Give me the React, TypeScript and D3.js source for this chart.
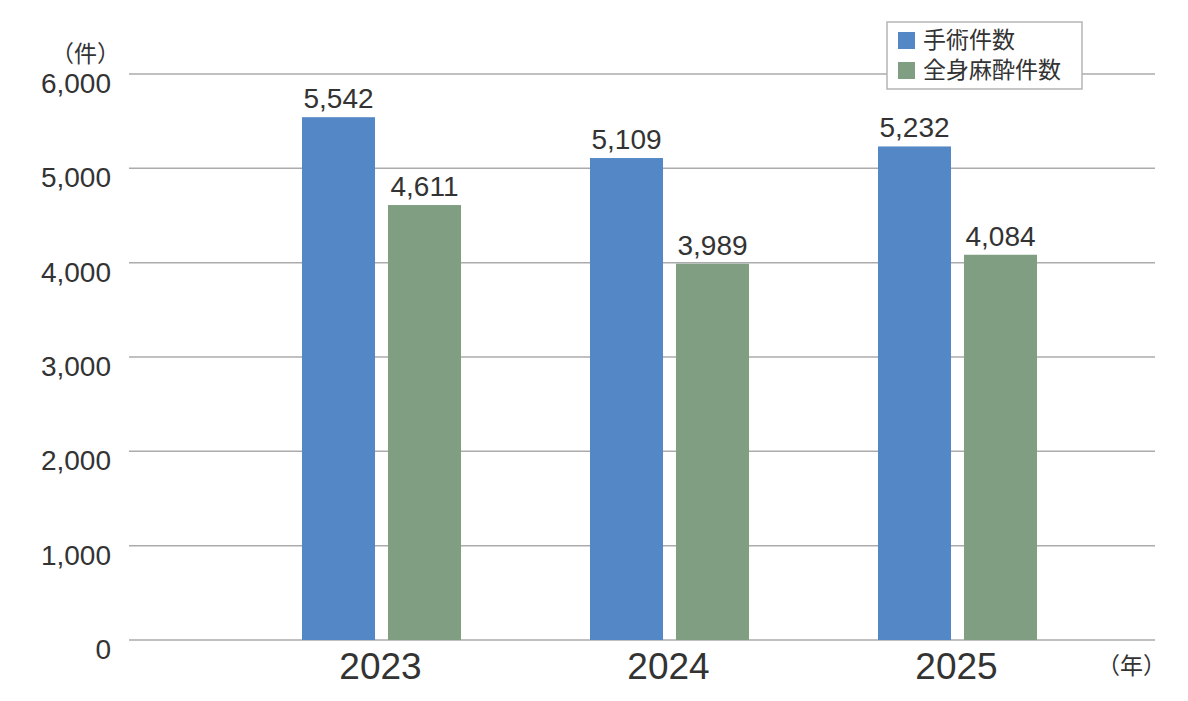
import React from 'react';
import * as d3 from 'd3';

// chart values
const years = ['2023', '2024', '2025'];
const seriesNames = ['手術件数', '全身麻酔件数'];
const surgeries = [5542, 5109, 5232];
const anesthesia = [4611, 3989, 4084];
const yTicks = [0, 1000, 2000, 3000, 4000, 5000, 6000];

const colors = ['#5387c6', '#809f82'];
const textColor = '#333333';
const gridColor = '#ababab';
const numFont = '"Liberation Sans", Arial, Helvetica, sans-serif';
const cjkFont = '"Noto Sans CJK JP", "Noto Sans", sans-serif';

const width = 1188;
const height = 701;
const plot = { left: 129, right: 1155, top: 74, bottom: 640 };

export default function App() {
  const yScale = d3.scaleLinear().domain([0, 6000]).range([plot.bottom, plot.top]);

  const x0 = d3.scaleBand<string>()
    .domain(years)
    .range([237.5, 1101.5])
    .paddingInner(0)
    .paddingOuter(0);

  const groupWidth = 159;
  const x1 = d3.scaleBand<number>()
    .domain([0, 1])
    .range([0, groupWidth])
    .paddingInner(0.151);

  const series = [surgeries, anesthesia];
  const fmt = d3.format(',');

  return (
    <svg
      width={width}
      height={height}
      style={{ position: 'absolute', left: 0, top: 0, background: '#fff' }}
    >
      {/* grid lines */}
      {yTicks.map(t => (
        <line
          key={t}
          x1={plot.left}
          x2={plot.right}
          y1={yScale(t)}
          y2={yScale(t)}
          stroke={gridColor}
          strokeWidth={1.5}
        />
      ))}

      {/* y tick labels */}
      {yTicks.map(t => (
        <text
          key={'l' + t}
          x={111}
          y={yScale(t) + 19}
          textAnchor="end"
          fontFamily={numFont}
          fontSize={28}
          fill={textColor}
        >
          {fmt(t)}
        </text>
      ))}
      <text x={120} y={62} textAnchor="end" fontFamily={cjkFont} fontSize={23} fill={textColor}>
        （件）
      </text>

      {/* bars */}
      {years.map((yr, i) => {
        const gx = x0(yr)! + (x0.bandwidth() - groupWidth) / 2;
        return (
          <g key={yr} transform={`translate(${gx},0)`}>
            {series.map((s, j) => (
              <g key={j}>
                <rect
                  x={x1(j)}
                  y={yScale(s[i])}
                  width={x1.bandwidth()}
                  height={yScale(0) - yScale(s[i])}
                  fill={colors[j]}
                />
                <text
                  x={x1(j)! + x1.bandwidth() / 2}
                  y={yScale(s[i]) - 9}
                  textAnchor="middle"
                  fontFamily={numFont}
                  fontSize={28}
                  fill={textColor}
                >
                  {fmt(s[i])}
                </text>
              </g>
            ))}
          </g>
        );
      })}

      {/* x labels */}
      {years.map(yr => (
        <text
          key={'x' + yr}
          x={x0(yr)! + x0.bandwidth() / 2 - 1}
          y={679}
          textAnchor="middle"
          fontFamily={numFont}
          fontSize={37}
          fill={textColor}
        >
          {yr}
        </text>
      ))}
      <text x={1166} y={674} textAnchor="end" fontFamily={cjkFont} fontSize={23} fill={textColor}>
        （年）
      </text>

      {/* legend */}
      <g>
        <rect x={887} y={22} width={195} height={67} fill="#fff" stroke="#b5b5b5" strokeWidth={1.5} />
        {seriesNames.map((name, j) => (
          <g key={name} transform={`translate(898,${32 + j * 30})`}>
            <rect width={17} height={17} fill={colors[j]} />
            <text x={25} y={16} fontFamily={cjkFont} fontSize={23} fill={textColor}>
              {name}
            </text>
          </g>
        ))}
      </g>
    </svg>
  );
}
